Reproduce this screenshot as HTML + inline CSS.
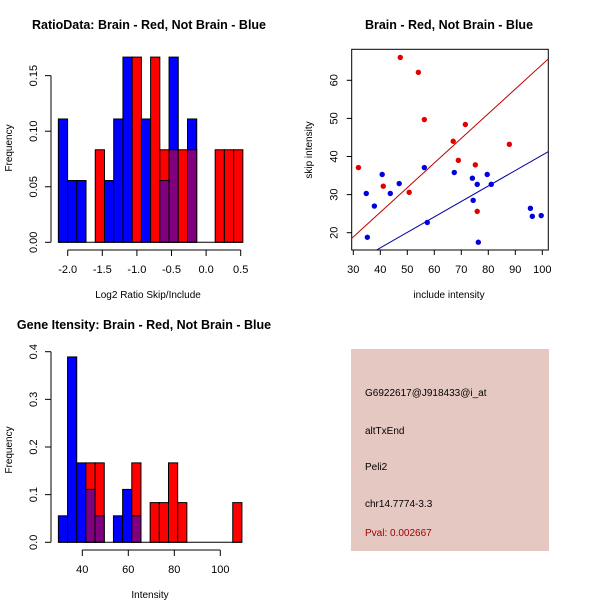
<!DOCTYPE html>
<html><head><meta charset="utf-8"><style>
body{margin:0;background:#fff}
svg{display:block;font-family:"Liberation Sans",sans-serif}
</style></head><body>
<svg id="s" width="600" height="600" xmlns="http://www.w3.org/2000/svg">
<rect width="600" height="600" fill="#fff"/>
<text x="149" y="29" font-size="12.5" font-weight="bold" text-anchor="middle">RatioData: Brain - Red, Not Brain - Blue</text>
<text x="449" y="29" font-size="12.5" font-weight="bold" text-anchor="middle">Brain - Red, Not Brain - Blue</text>
<text x="144" y="329" font-size="12.5" font-weight="bold" text-anchor="middle">Gene Itensity: Brain - Red, Not Brain - Blue</text>
<text x="148" y="298" font-size="10" text-anchor="middle">Log2 Ratio Skip/Include</text>
<text transform="translate(12,148) rotate(-90)" font-size="10" text-anchor="middle">Frequency</text>
<text x="449" y="298" font-size="10" text-anchor="middle">include intensity</text>
<text transform="translate(312,150) rotate(-90)" font-size="10" text-anchor="middle">skip intensity</text>
<text x="150" y="598" font-size="10" text-anchor="middle">Intensity</text>
<text transform="translate(12,450) rotate(-90)" font-size="10" text-anchor="middle">Frequency</text>
<g>
<rect x="351" y="349" width="198" height="202" fill="#e6c8c2"/>
<text x="365" y="396" font-size="10">G6922617@J918433@i_at</text>
<text x="365" y="434" font-size="10">altTxEnd</text>
<text x="365" y="470" font-size="10">Peli2</text>
<text x="365" y="507" font-size="10">chr14.7774-3.3</text>
<text x="365" y="536" font-size="10" fill="#a00000">Pval: 0.002667</text>
</g>
</svg>
<script>
// Ratio histogram data
const ratioBreakStart = -2.135, ratioBinWidth = 0.1333;
const ratioBlue = [0.111,0.0556,0.0556,0,0,0.0556,0.111,0.1667,0,0.111,0,0.0556,0.1667,0,0.111,0,0,0,0,0];
const ratioRed  = [0,0,0,0,0.0833,0,0,0,0.1667,0,0.1667,0.0833,0.0833,0.0833,0.0833,0,0,0.0833,0.0833,0.0833];
const ratioXTicks = [-2.0,-1.5,-1.0,-0.5,0.0,0.5];
const ratioYTicks = [0.00,0.05,0.10,0.15];
// Intensity histogram data
const intBreakStart = 29.6, intBinWidth = 3.99;
const intBlue = [0.0556,0.389,0.1667,0.111,0.0556,0,0.0556,0.111,0.0556,0,0,0,0,0,0,0,0,0,0,0];
const intRed  = [0,0,0,0.1667,0.1667,0,0,0,0.1667,0,0.0833,0.0833,0.1667,0.0833,0,0,0,0,0,0.0833];
const intXTicks = [40,60,80,100];
const intYTicks = [0.0,0.1,0.2,0.3,0.4];
// Scatter data
const redX = [31.9,47.4,54.1,56.3,41.1,50.7,67.0,71.5,68.9,75.2,75.9,87.8];
const redY = [37.1,66.0,62.1,49.7,32.2,30.6,44.0,48.4,39.0,37.8,25.6,43.2];
const blueX = [34.8,35.2,37.8,40.7,43.7,47.0,56.3,57.4,67.4,74.1,74.4,75.9,76.3,79.6,81.1,95.6,96.3,99.6];
const blueY = [30.3,18.8,27.0,35.3,30.3,32.9,37.1,22.7,35.8,34.3,28.5,32.7,17.5,35.3,32.7,26.4,24.3,24.5];
const redFit = [-0.52,0.647];
const blueFit = [-0.22,0.406];
const scXTicks = [30,40,50,60,70,80,90,100];
const scYTicks = [20,30,40,50,60];

const NS="http://www.w3.org/2000/svg", svg=document.getElementById('s');
function mk(tag,attrs,parent){const e=document.createElementNS(NS,tag);for(const k in attrs)e.setAttribute(k,attrs[k]);(parent||svg).appendChild(e);return e;}
function txt(x,y,s,attrs,parent){const t=mk('text',Object.assign({x:x,y:y,'font-size':11,'text-anchor':'middle'},attrs||{}),parent);t.textContent=s;return t;}

function hist(name,start,w,blue,red,xs,ys,xt,yt,axisY,yfmt,xfmt){
  const g=mk('g',{});
  
  
  for(let i=0;i<blue.length;i++){
    const x0=xs(start+i*w), x1=xs(start+(i+1)*w);
    const b=blue[i], r=red[i];
    const mx=Math.max(b,r), mn=Math.min(b,r);
    if(mx>0){
      const r1=mk('rect',{x:x0,y:ys(mx),width:x1-x0,height:ys(0)-ys(mx),fill:(b>r?'#0000ff':'#ff0000'),stroke:'#000','stroke-width':1},g);
      
      
    }
    if(mn>0){
      const r2=mk('rect',{x:x0,y:ys(mn),width:x1-x0,height:ys(0)-ys(mn),fill:'#800080',stroke:'#000','stroke-width':1},g);
      
      
    }
  }
  const xe=xs(start+blue.length*w);
  mk('line',{x1:xs(start),x2:xe,y1:ys(0),y2:ys(0),stroke:'#000'},g);
  mk('line',{x1:51,x2:51,y1:ys(yt[0]),y2:ys(yt[yt.length-1]),stroke:'#000'},g);
  yt.forEach(v=>{mk('line',{x1:45,x2:51,y1:ys(v),y2:ys(v),stroke:'#000'},g);
    txt(0,0,yfmt(v),{transform:'translate(37,'+ys(v)+') rotate(-90)'},g);});
  mk('line',{x1:xs(xt[0]),x2:xs(xt[xt.length-1]),y1:axisY,y2:axisY,stroke:'#000'},g);
  xt.forEach(v=>{mk('line',{x1:xs(v),x2:xs(v),y1:axisY,y2:axisY+6,stroke:'#000'},g);
    txt(xs(v),axisY+23,xfmt(v),{},g);});
}
hist('ratio-histogram',ratioBreakStart,ratioBinWidth,ratioBlue,ratioRed,
  v=>67.7+(v+2)*69.2, v=>242.3-v*1111,ratioXTicks,ratioYTicks,250,v=>v.toFixed(2),v=>v.toFixed(1));
hist('intensity-histogram',intBreakStart,intBinWidth,intBlue,intRed,
  v=>82.3+(v-40)*2.3, v=>542.3-v*476.5,intXTicks,intYTicks,550,v=>v.toFixed(1),v=>String(v));

(function(){
  const xs=v=>353.3+(v-30)*2.7, ys=v=>232.7-(v-20)*3.81;
  const L=351.7,R=548.3,T=49.3,B=250;
  const g=mk('g',{});
  
  
  mk('rect',{x:L,y:T,width:R-L,height:B-T,fill:'none',stroke:'#000'},g);
  const cp=mk('clipPath',{id:'cp'},g); mk('rect',{x:L,y:T,width:R-L,height:B-T},cp);
  const x0=29.4,x1=102.2;
  const rl=mk('line',{x1:xs(x0),y1:ys(redFit[0]+redFit[1]*x0),x2:xs(x1),y2:ys(redFit[0]+redFit[1]*x1),stroke:'#c00000','clip-path':'url(#cp)'},g);
  
  
  const bl=mk('line',{x1:xs(x0),y1:ys(blueFit[0]+blueFit[1]*x0),x2:xs(x1),y2:ys(blueFit[0]+blueFit[1]*x1),stroke:'#0000a0','clip-path':'url(#cp)'},g);
  
  
  redX.forEach((x,i)=>{const c=mk('circle',{cx:xs(x),cy:ys(redY[i]),r:2.7,fill:'#e00000'},g);
    
    });
  blueX.forEach((x,i)=>{const c=mk('circle',{cx:xs(x),cy:ys(blueY[i]),r:2.7,fill:'#0000e0'},g);
    
    });
  scXTicks.forEach(v=>{mk('line',{x1:xs(v),x2:xs(v),y1:B,y2:B+5,stroke:'#000'},g);txt(xs(v),B+23,String(v),{},g);});
  scYTicks.forEach(v=>{mk('line',{x1:L-5,x2:L,y1:ys(v),y2:ys(v),stroke:'#000'},g);txt(0,0,String(v),{transform:'translate('+(L-14)+','+ys(v)+') rotate(-90)'},g);});
})();
</script>
</body></html>
